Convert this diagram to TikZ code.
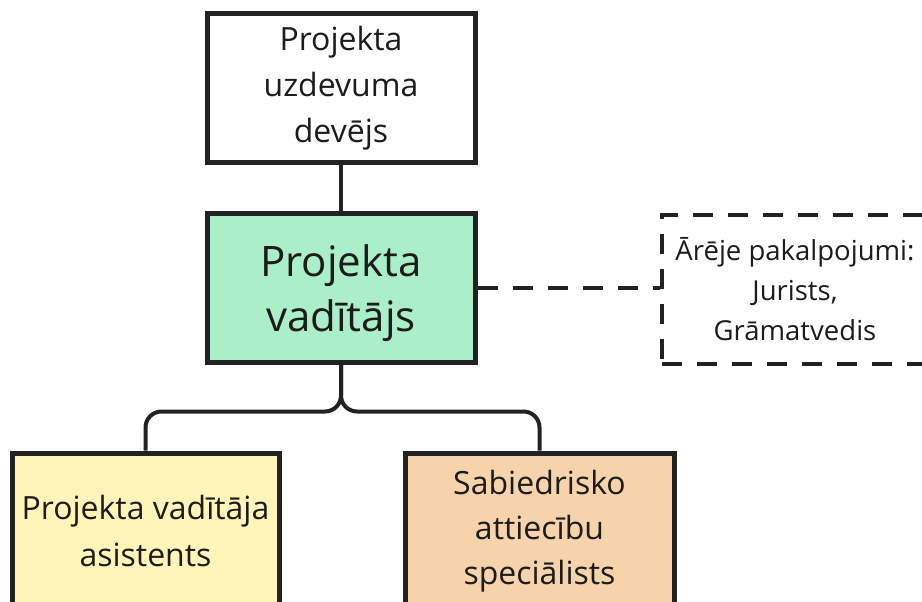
\documentclass[tikz,border=0pt]{standalone}
\usepackage{fontspec}
\setmainfont{Open Sans}
\definecolor{linegray}{HTML}{222222}
\definecolor{textgray}{HTML}{1C1C1C}
\definecolor{mintfill}{HTML}{ABEFC8}
\definecolor{lemonfill}{HTML}{FFF5B8}
\definecolor{peachfill}{HTML}{F6D3AB}
\tikzset{
  x=1pt, y=1pt,
  orgbox/.style={draw=linegray, line width=5pt, align=center, inner sep=0pt,
    minimum width=268pt, text=textgray},
  link/.style={draw=linegray, line width=4pt},
  extlink/.style={draw=linegray, line width=4pt, dash pattern=on 20pt off 15pt},
}
\begin{document}
\begin{tikzpicture}
\useasboundingbox (0,0) rectangle (922,-602);
\clip (0,0) rectangle (922,-602);

% client / task owner
\node[orgbox, fill=white, minimum height=148pt,
      font=\fontsize{32}{46}\selectfont] (owner) at (341,-88)
  {Projekta\\uzdevuma\\devējs};

% project manager (text set a little low in the box)
\node[orgbox, fill=mintfill, minimum height=149pt,
      label={[text=textgray, align=center, inner sep=0pt, yshift=-6pt,
              font=\fontsize{42}{55}\selectfont]center:{Projekta\\vadītājs}}]
  (manager) at (341,-287.5) {};

% external services (dashed)
\node[orgbox, fill=white, draw=linegray, line width=4pt,
      dash pattern=on 20pt off 15pt, minimum width=266pt, minimum height=149pt,
      font=\fontsize{27.5}{40}\selectfont] (external) at (795,-289)
  {Ārēje pakalpojumi:\\Jurists,\\Grāmatvedis};

% assistant
\node[orgbox, fill=lemonfill, minimum width=267pt, minimum height=156pt,
      font=\fontsize{32}{47}\selectfont] (assistant) at (145.5,-531)
  {Projekta vadītāja\\asistents};

% PR specialist
\node[orgbox, fill=peachfill, minimum width=269pt, minimum height=156pt,
      font=\fontsize{32}{45}\selectfont] (prspec) at (539.5,-531)
  {Sabiedrisko\\attiecību\\speciālists};

% connectors
\draw[link] (owner.south) -- (manager.north);
\draw[extlink] (manager.east) -- (external.west |- manager.east);
\draw[link, rounded corners=16pt] (manager.south) -- ++(0,-47) -| (assistant.north);
\draw[link, rounded corners=16pt] (manager.south) -- ++(0,-47) -| (prspec.north);
\end{tikzpicture}
\end{document}
